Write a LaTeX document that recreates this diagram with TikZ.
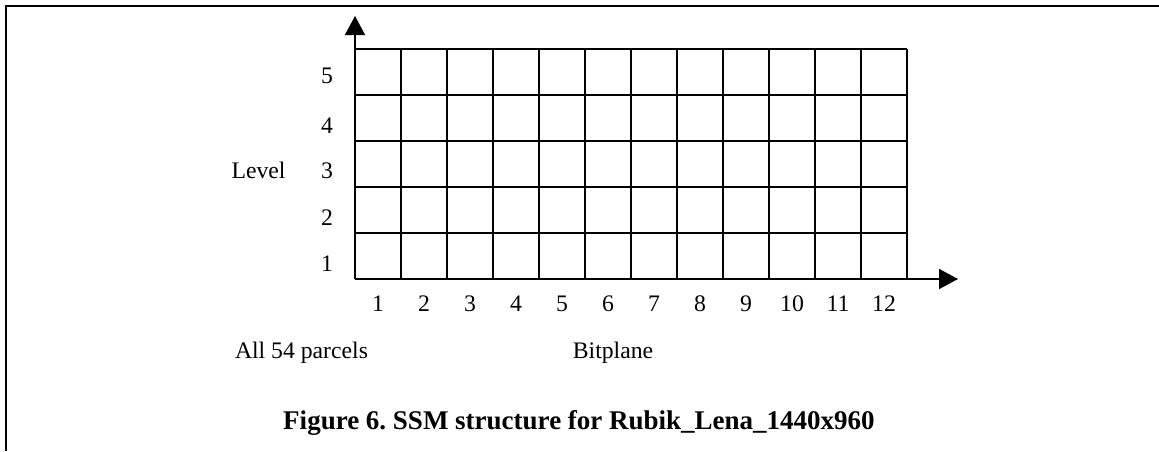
\documentclass[tikz,border=0pt]{standalone}
\usepackage{fontspec}
\setmainfont{Liberation Serif}
\usetikzlibrary{arrows.meta}
\frenchspacing
\begin{document}
\begin{tikzpicture}[x=1pt,y=-1pt,
  frameline/.style={line width=2pt},
  gridline/.style={line width=1.6pt},
  axisline/.style={line width=1.6pt,-{Triangle[width=20pt,length=19pt]}},
  lbl/.style={inner sep=0pt,anchor=base,font=\fontsize{23.7}{28}\selectfont},
  captiontext/.style={inner sep=0pt,anchor=base,font=\fontsize{27}{32}\selectfont\bfseries}]
\useasboundingbox (0,0) rectangle (1159,451);
% frame
\coordinate (fbl) at (6,451);
\coordinate (ftl) at (6,6);
\coordinate (ftr) at (1159,6);
\draw[frameline] (fbl) -- (ftl) -- (ftr);
% grid
\foreach \i in {0,...,12} {\draw[gridline] (355+46*\i,49) -- (355+46*\i,279);}
\foreach \j in {0,...,5} {\draw[gridline] (355,49+46*\j) -- (907,49+46*\j);}
% axes
\coordinate (O) at (355,279);
\coordinate (ytip) at (355,16);
\coordinate (xtip) at (958,279);
\draw[axisline] (O) -- (ytip);
\draw[axisline] (O) -- (xtip);
% y labels
\node[lbl] (y5) at (327,83.3) {5};
\node[lbl] (y4) at (327,133) {4};
\node[lbl] (y3) at (327,178.5) {3};
\node[lbl] (y2) at (327,225) {2};
\node[lbl] (y1) at (327,271.7) {1};
\node[lbl] (level) at (258.5,178.5) {Level};
% x labels
\foreach \i in {1,...,12} {\node[lbl] (x\i) at (355+46*\i-23,311.5) {\i};}
\node[lbl] (parcels) at (301.5,358) {All 54 parcels};
\node[lbl] (bitplane) at (613,358) {Bitplane};
% caption
\node[captiontext] (caption) at (579,429.5) {Figure 6. SSM structure for Rubik\_Lena\_1440x960};
\end{tikzpicture}
\end{document}
